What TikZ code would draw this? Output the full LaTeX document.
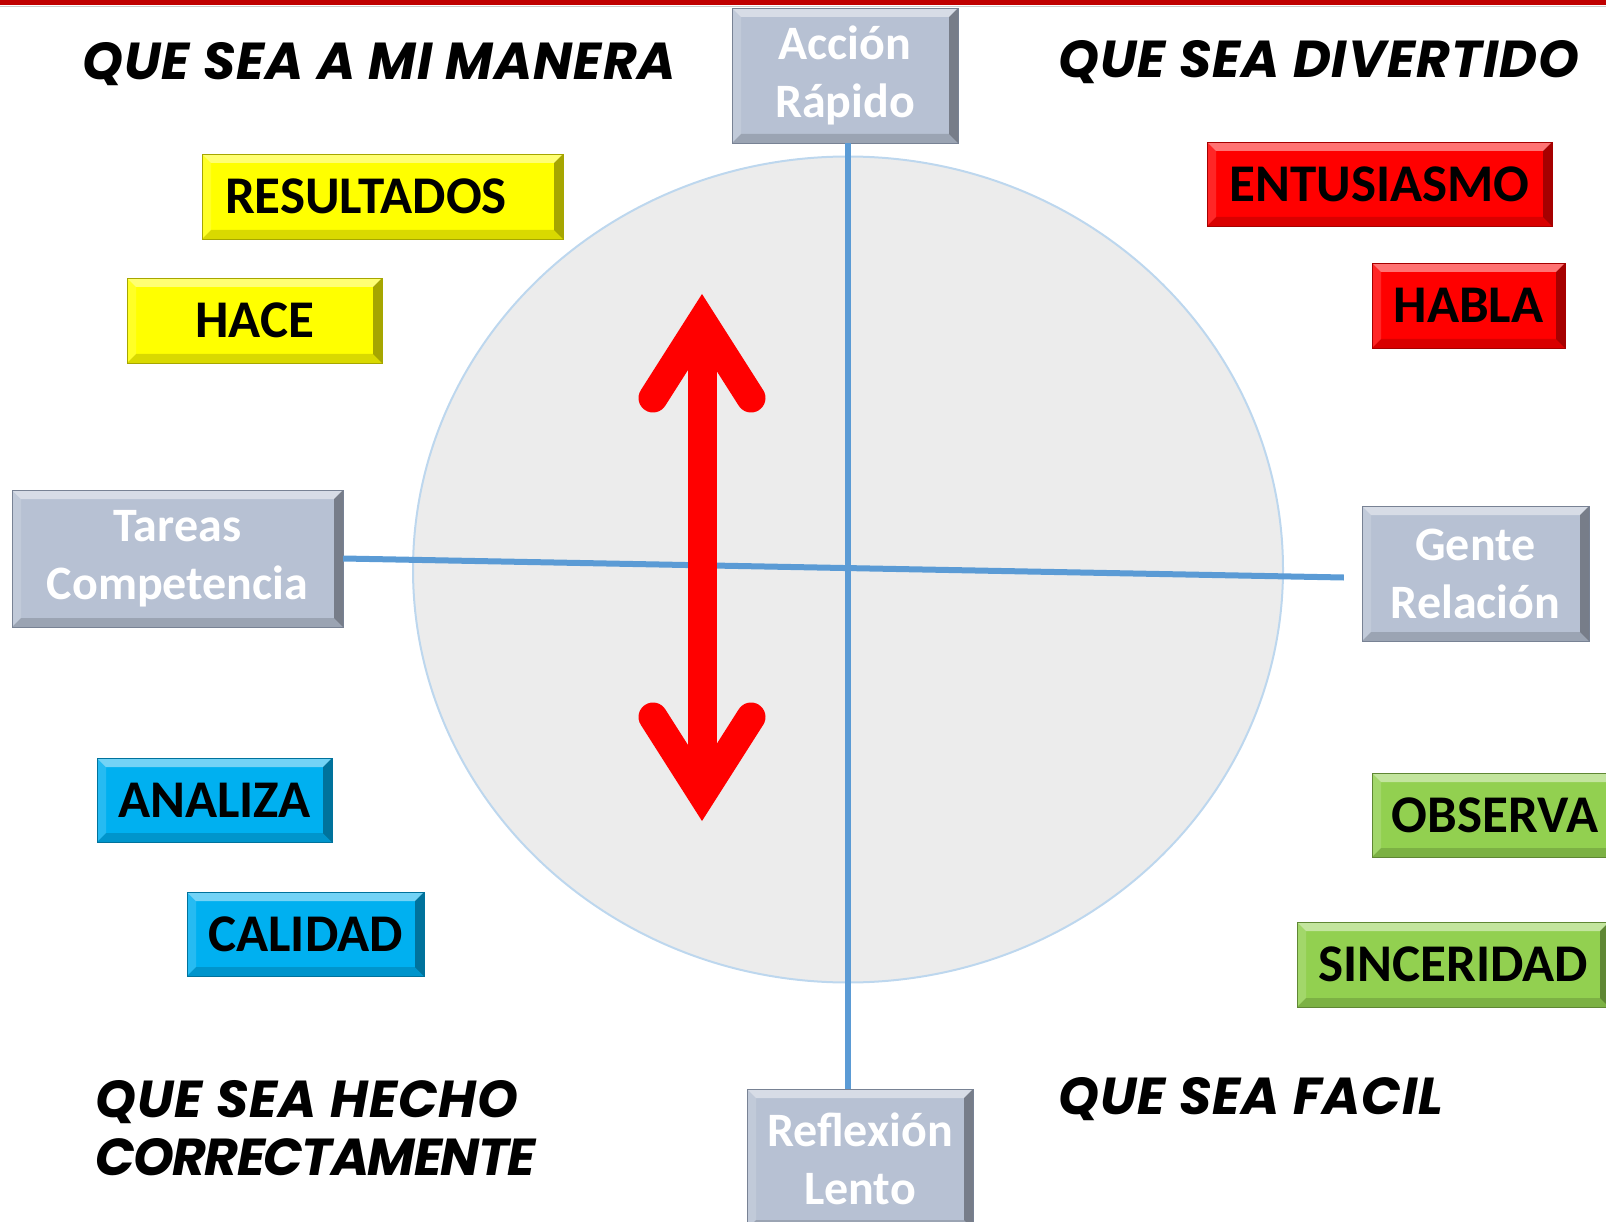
\documentclass[tikz,border=0pt]{standalone}
\usepackage{fontspec}
\setmainfont{Carlito}
\newfontfamily\comicfont{Poppins}[LetterSpace=2]
\usetikzlibrary{calc}

\definecolor{boxgray}{RGB}{183,193,211}
\definecolor{boxline}{RGB}{120,130,148}
\definecolor{axisblue}{RGB}{91,155,213}
\definecolor{discfill}{RGB}{236,236,236}
\definecolor{discline}{RGB}{189,215,238}
\definecolor{topred}{RGB}{192,0,0}
\definecolor{tyellow}{RGB}{255,255,0}
\definecolor{tred}{RGB}{255,0,0}
\definecolor{tcyan}{RGB}{0,176,240}
\definecolor{tgreen}{RGB}{146,208,80}

\tikzset{
  bevel/.style={path picture={
    \coordinate (bvnw) at (path picture bounding box.north west);
    \coordinate (bvse) at (path picture bounding box.south east);
    \coordinate (bvne) at (bvse |- bvnw);
    \coordinate (bvsw) at (bvnw |- bvse);
    \fill[white, opacity=.45] (bvnw) -- (bvne) -- ([shift={(-9pt,-9pt)}]bvne) -- ([shift={(9pt,-9pt)}]bvnw) -- cycle;
    \fill[white, opacity=.15] (bvnw) -- (bvsw) -- ([shift={(9pt,9pt)}]bvsw) -- ([shift={(9pt,-9pt)}]bvnw) -- cycle;
    \fill[black, opacity=.35] (bvne) -- (bvse) -- ([shift={(-9pt,9pt)}]bvse) -- ([shift={(-9pt,-9pt)}]bvne) -- cycle;
    \fill[black, opacity=.15] (bvsw) -- (bvse) -- ([shift={(-9pt,9pt)}]bvse) -- ([shift={(9pt,9pt)}]bvsw) -- cycle;
  }},
  axisbox/.style={bevel, draw=boxline, fill=boxgray, text=white, align=center,
    font=\fontsize{48}{58}\selectfont\bfseries, minimum width=226, minimum height=135, inner sep=0},
  tagbox/.style={bevel, draw=#1!65!black, fill=#1, text=black,
    font=\fontsize{53}{60}\selectfont\bfseries, minimum height=85, inner sep=0},
  motto/.style={font=\comicfont\fontsize{52}{58}\selectfont\bfseries\itshape, align=left, inner sep=0}
}

\begin{document}
\begin{tikzpicture}[x=1pt, y=-1pt]
  \useasboundingbox (0,0) rectangle (1606,1222);

  % Top band
  \fill[topred] (0,0) rectangle (1606,5);
  \draw[gray!40, line width=1.5] (0,6.5) -- (1606,6.5);

  % Disc
  \coordinate (ctr) at (848,569.5);
  \filldraw[fill=discfill, draw=discline, line width=2] (ctr) ellipse [x radius=435, y radius=413];

  % Axis boxes
  \node[axisbox] (accion) at (845,75.5) {Acción\\Rápido};
  \node[axisbox, minimum width=331, minimum height=137] (tareas) at (177.5,558.5) {Tareas\\Competencia};
  \node[axisbox, minimum width=227] (gente) at (1475.5,573.5) {Gente\\Relación};
  \node[axisbox, minimum height=140] (reflexion) at (860,1159) {Reflexión\\Lento};

  % Axis
  \draw[axisblue, line width=6] (ctr |- accion.south) -- (ctr |- reflexion.north);
  \draw[axisblue, line width=6] (tareas.east) -- ([shift={(-18pt,-4pt)}]gente.west);

  % Red arrow
  \coordinate (atop) at (702,321);
  \coordinate (abot) at (702,794);
  \draw[tred, line width=29] (atop) -- (abot);
  \draw[tred, line width=29, line cap=round] (653,398) -- (atop) -- (751,398);
  \draw[tred, line width=29, line cap=round] (653,717) -- (abot) -- (751,717);

  % Tags
  \node[tagbox=tyellow, text width=315, align=left, inner xsep=23] (resultados) at (382.5,196.5) {RESULTADOS};
  \node[tagbox=tyellow, minimum width=255] (hace) at (254.5,320.5) {HACE};
  \node[tagbox=tred, minimum width=345, minimum height=84] (entusiasmo) at (1379.5,184) {ENTUSIASMO};
  \node[tagbox=tred, minimum width=193] (habla) at (1468.5,305.5) {HABLA};
  \node[tagbox=tcyan, minimum width=235, minimum height=84] (analiza) at (214.5,800) {ANALIZA};
  \node[tagbox=tcyan, minimum width=237, minimum height=84] (calidad) at (305.5,934) {CALIDAD};
  \node[tagbox=tgreen, minimum width=246, minimum height=84] (observa) at (1495,815) {OBSERVA};
  \node[tagbox=tgreen, minimum width=312] (sinceridad) at (1453,964.5) {SINCERIDAD};

  % Mottos
  \node[motto, anchor=west] (manera) at (82,64.5) {QUE SEA A MI MANERA};
  \node[motto, anchor=west] (divertido) at (1058,62) {QUE SEA DIVERTIDO};
  \node[motto, anchor=west] (hecho) at (95,1128) {QUE SEA HECHO\\{\addfontfeature{LetterSpace=-3}CORRECTAMENTE}};
  \node[motto, anchor=west] (facil) at (1058,1099) {QUE SEA FACIL};
\end{tikzpicture}
\end{document}
